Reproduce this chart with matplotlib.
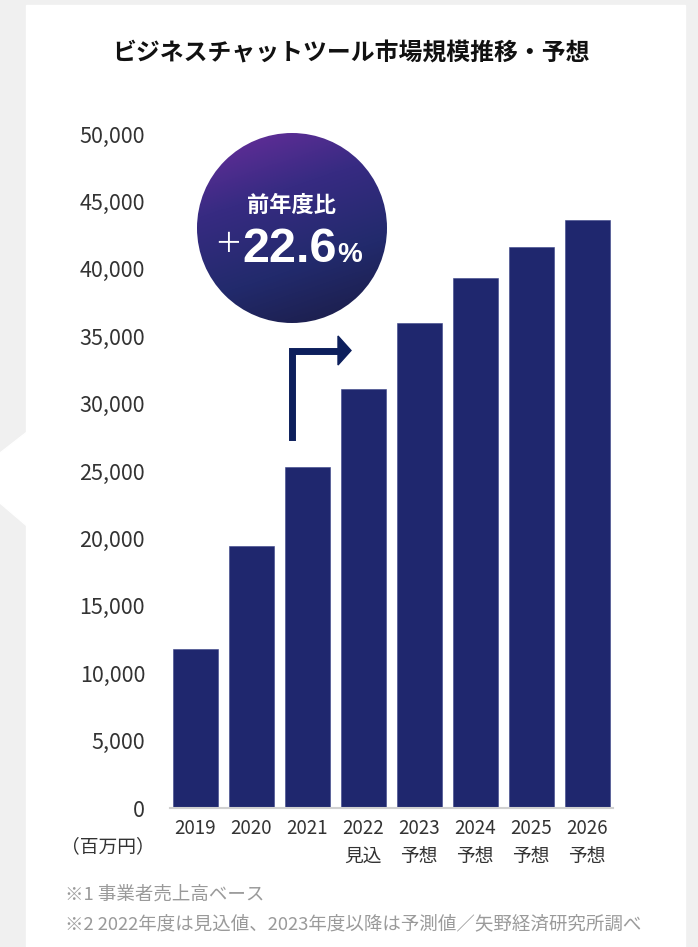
import matplotlib
matplotlib.use('Agg')
import matplotlib.pyplot as plt
import numpy as np
from matplotlib.patches import Circle, Polygon, Rectangle
from matplotlib.colors import LinearSegmentedColormap

plt.rcParams['font.family'] = ['Noto Sans CJK JP', 'DejaVu Sans']

# データ（百万円）
years = ['2019', '2020', '2021', '2022\n見込', '2023\n予想', '2024\n予想', '2025\n予想', '2026\n予想']
values = [11800, 19400, 25300, 31050, 36000, 39300, 41600, 43600]
yticks = [0, 5000, 10000, 15000, 20000, 25000, 30000, 35000, 40000, 45000, 50000]
growth = '22.6'

W, H = 698, 947
fig = plt.figure(figsize=(W / 100, H / 100), dpi=100)

# 背景（グレー地に白いカード）
bg = fig.add_axes([0, 0, 1, 1], zorder=0)
bg.set_xlim(0, W)
bg.set_ylim(H, 0)
bg.axis('off')
bg.add_patch(Rectangle((0, 0), W, H, color='#f0f0f0'))
bg.add_patch(Rectangle((26, 5), 659, H, color='white'))
bg.add_patch(Polygon([(27, 432), (0, 453), (0, 503), (27, 526)], color='white'))

# 棒グラフ
ax = fig.add_axes([170 / W, (H - 808) / H, 443 / W, 674 / H], zorder=1)
ax.patch.set_alpha(0)
x = np.arange(len(years))
ax.bar(x, values, width=0.8, color='#1f276e', edgecolor='#3a4388', linewidth=0.4)
ax.set_xlim(-0.45, 7.46)
ax.set_ylim(0, 50000)
ax.set_yticks(yticks)
ax.set_yticklabels([f'{v:,}' for v in yticks], fontsize=15.5, color='#333333')
ax.set_xticks(x)
ax.set_xticklabels(years, fontsize=13.5, color='#333333', linespacing=1.45, va='top')
ax.tick_params(axis='y', length=0, pad=18)
ax.tick_params(axis='x', length=0, pad=7)
for s in ['top', 'right', 'left']:
    ax.spines[s].set_visible(False)
ax.spines['bottom'].set_color('#d0d0d0')
ax.spines['bottom'].set_linewidth(1.5)

# 前面の装飾（円・矢印・テキスト）
fg = fig.add_axes([0, 0, 1, 1], zorder=3)
fg.set_xlim(0, W)
fg.set_ylim(H, 0)
fg.axis('off')
fg.patch.set_alpha(0)

fg.text(351, 54, 'ビジネスチャットツール市場規模推移・予想', ha='center', va='center',
        fontsize=17.2, fontweight='bold', color='#111111')

cx, cy, r = 292, 228, 95
cmap = LinearSegmentedColormap.from_list('g', ['#6a2e9c', '#372b82', '#222a6c', '#1b1c45'])
gx, gy = np.meshgrid(np.linspace(0, 1, 200), np.linspace(0, 1, 200))
grad = 0.75 * gy + 0.25 * gx
im = fg.imshow(grad, cmap=cmap, extent=(cx - r, cx + r, cy + r, cy - r), aspect='auto', zorder=2)
clip = Circle((cx, cy), r, transform=fg.transData)
im.set_clip_path(clip)
fg.set_xlim(0, W)
fg.set_ylim(H, 0)

fg.text(cx, 205, '前年度比', ha='center', va='center', fontsize=16, fontweight='bold', color='white', zorder=3)
fg.text(228, 244, '＋', ha='center', va='center', fontsize=20, color='white', zorder=3)
fg.text(242, 262, growth, ha='left', va='baseline', fontsize=35, fontweight='bold', color='white',
        family='Liberation Sans', zorder=3)
fg.text(337, 262, '%', ha='left', va='baseline', fontsize=20, fontweight='bold', color='white',
        family='Liberation Sans', zorder=3)

# 矢印
fg.plot([292, 292, 341], [437, 350.5, 350.5], color='#0d1f5c', linewidth=5, solid_joinstyle='miter', zorder=3)
fg.add_patch(Polygon([(338, 336), (351, 350.5), (338, 365)], color='#0d1f5c', zorder=3))

fg.text(108, 847, '（百万円）', ha='center', va='center', fontsize=13.5, color='#333333')
fg.text(65, 895, '※1 事業者売上高ベース', ha='left', va='center', fontsize=13.3, color='#9a9a9a')
fg.text(65, 924, '※2 2022年度は見込値、2023年度以降は予測値／矢野経済研究所調べ', ha='left', va='center',
        fontsize=13.3, color='#9a9a9a')

fig.savefig('out.png', dpi=100)
